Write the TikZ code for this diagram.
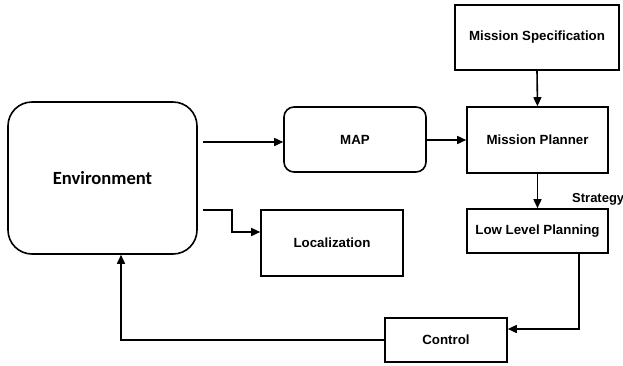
\documentclass[tikz,border=0pt]{standalone}
\usepackage{fontspec}
\setmainfont{Liberation Sans}
\newfontfamily\envfont{Carlito}
\usetikzlibrary{arrows.meta}
\begin{document}
\begin{tikzpicture}[x=1pt,y=-1pt,
  box/.style={draw, line width=1.6pt, font=\fontsize{13.3}{15}\selectfont\bfseries},
  rbox/.style={box, rounded corners=10pt},
  conn/.style={line width=1.6pt, -{Triangle[length=9pt,width=8pt]}}]
\useasboundingbox (0,0) rectangle (623,365);
\fill[white] (0,0) rectangle (623,365);
\node[draw, line width=1.6pt, rounded corners=24pt, minimum width=189pt, minimum height=152pt,
  font=\envfont\fontsize{18.6}{20}\selectfont\bfseries] (env) at (102.5,178) {Environment};
\node[rbox, minimum width=142pt, minimum height=65pt] (map) at (355,139.5) {MAP};
\node[box, minimum width=164pt, minimum height=65pt] (ms) at (537,37.5) {Mission Specification};
\node[box, minimum width=141pt, minimum height=66pt] (mp) at (537.5,140) {Mission Planner};
\node[box, minimum width=141pt, minimum height=44pt] (llp) at (537.5,231) {Low Level Planning};
\node[box, minimum width=142pt, minimum height=66pt] (loc) at (332,243) {Localization};
\node[box, minimum width=122pt, minimum height=44pt] (ctl) at (446,340) {Control};
\node[anchor=west, font=\fontsize{13}{15}\selectfont\bfseries, inner sep=0pt] (strat) at (572,199) {Strategy};
\coordinate (e1) at (203,142);
\coordinate (e2) at (203,210);
\draw[conn] (e1) -- (e1 -| map.west);
\draw[conn] (map.east |- mp.west) -- (mp.west);
\draw[conn] (ms.south) -- (mp.north);
\draw[conn] (mp.south) -- (llp.north);
\draw[conn] (e2) -- (232,210) -- (232,232) -- (232,232 -| loc.west);
\draw[conn] (579,253) -- (579,329) -- (ctl.east |- 579,329);
\draw[conn] (ctl.west |- 0,340) -- (121,340) -- (121,340 |- env.south);
\end{tikzpicture}
\end{document}
